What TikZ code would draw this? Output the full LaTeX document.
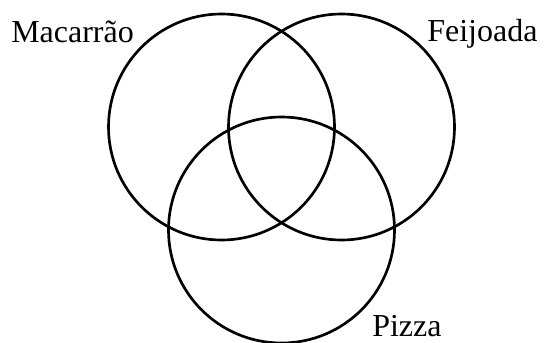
\documentclass[tikz,border=0pt]{standalone}
\usepackage{fontspec}
\setmainfont{Liberation Serif}
\usetikzlibrary{positioning}

\begin{document}
\begin{tikzpicture}[
    x=0.75pt, y=-0.75pt,
    set/.style={draw, circle, line width=2pt, inner sep=0pt,
                minimum size=169.5pt},
    label/.style={anchor=base west, inner sep=0pt,
                  font=\fontsize{24}{28}\selectfont}
  ]
  \useasboundingbox (0,0) rectangle (545,342);

  \node[set] (macarrao) at (221.5,127) {};
  \node[set] (feijoada) at (341.5,127) {};
  \node[set] (pizza)    at (281.5,230) {};

  \node[label] (lmac) at (11,43) {Macarrão};
  \node[label] (lfei) at (427,42) {Feijoada};
  \node[label] (lpiz) at (372,336) {Pizza};
\end{tikzpicture}
\end{document}
